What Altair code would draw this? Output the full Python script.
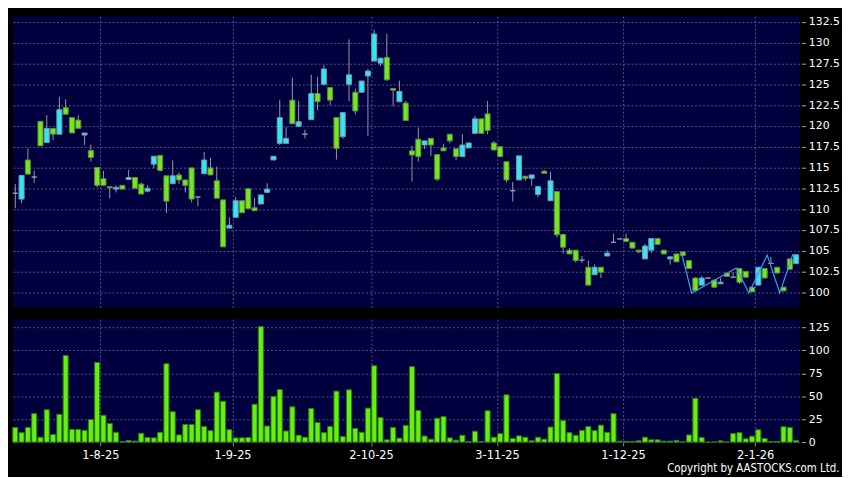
import altair as alt
import pandas as pd

# ---- data (one entry per trading day) ----
opens = [111.9, 111.2, 115.9, 113.85, 120.55, 118.0, 119.7, 119.0, 122.2, 121.0,
         120.7, 118.9, 117.05, 115.0, 113.65, 112.7, 112.4, 112.85, 113.55, 113.8,
         113.0, 112.15, 115.4, 116.45, 114.0, 113.05, 114.1, 113.5, 114.95, 111.45,
         114.25, 114.95, 113.4, 111.1, 107.7, 109.0, 111.0, 112.45, 110.15, 110.6,
         112.0, 115.9, 117.9, 117.9, 123.1, 119.95, 119.0, 120.75, 123.9, 125.0,
         124.6, 121.0, 118.7, 125.0, 124.05, 124.05, 126.0, 127.8, 127.55, 128.25,
         124.5, 122.9, 122.75, 117.0, 118.4, 117.7, 118.5, 116.55, 117.35, 119.0,
         117.25, 116.3, 117.35, 119.1, 120.85, 121.45, 117.95, 117.5, 115.7, 112.2,
         113.5, 113.95, 113.7, 111.75, 114.55, 111.0, 112.1, 106.95, 105.05, 105.05,
         103.85, 103.0, 102.1, 103.0, 104.35, 106.0, 106.4, 106.45, 106.0, 105.05,
         104.0, 105.05, 106.45, 105.05, 104.0, 104.6, 104.85, 103.8, 101.7, 100.85,
         101.7, 101.45, 101.0, 102.3, 101.8, 102.85, 102.5, 100.6, 100.85, 102.85,
         103.45, 103.0, 100.6, 104.0, 103.45]
highs = [113.0, 114.05, 117.3, 114.6, 120.55, 121.3, 119.7, 123.5, 123.2, 121.0,
         121.25, 119.15, 117.75, 115.0, 114.6, 112.7, 112.85, 112.85, 114.7, 113.8,
         113.2, 112.9, 116.35, 116.45, 114.0, 115.85, 114.4, 113.5, 114.95, 111.45,
         116.85, 116.15, 115.1, 111.1, 109.0, 111.45, 111.0, 112.45, 111.35, 111.7,
         113.1, 116.35, 123.15, 119.85, 125.8, 123.0, 119.55, 126.15, 125.9, 127.3,
         124.6, 121.0, 121.6, 130.4, 124.45, 125.4, 126.85, 131.5, 128.15, 131.05,
         124.5, 125.45, 123.0, 117.6, 119.8, 118.2, 118.5, 116.55, 117.8, 119.0,
         117.25, 119.0, 117.95, 121.2, 120.85, 123.0, 118.2, 117.5, 115.7, 113.25,
         116.4, 113.95, 114.1, 112.8, 114.7, 114.5, 112.1, 106.95, 105.3, 105.05,
         104.35, 103.8, 103.35, 103.0, 105.05, 107.05, 106.4, 107.05, 106.0, 105.05,
         105.8, 106.45, 106.45, 105.05, 104.25, 104.6, 104.85, 103.8, 101.8, 101.95,
         101.7, 101.45, 101.7, 102.3, 102.4, 102.85, 102.5, 100.6, 103.0, 102.85,
         104.25, 103.0, 100.6, 104.0, 104.5]
lows = [110.1, 110.7, 114.2, 113.15, 117.6, 118.0, 118.3, 119.0, 121.4, 119.15,
        119.7, 117.7, 115.7, 112.6, 112.85, 111.3, 112.0, 112.4, 113.55, 112.5,
        111.8, 112.0, 114.9, 114.5, 109.5, 113.05, 113.0, 112.0, 110.8, 110.35,
        114.25, 114.1, 111.3, 105.45, 107.7, 109.0, 109.55, 110.05, 109.8, 110.6,
        112.0, 115.9, 117.7, 117.9, 120.25, 119.95, 118.5, 120.75, 121.9, 125.0,
        122.5, 115.95, 118.45, 122.95, 121.4, 124.05, 118.8, 127.8, 127.2, 125.4,
        122.35, 122.9, 120.65, 113.3, 115.7, 117.2, 116.4, 113.35, 117.0, 117.9,
        115.9, 116.3, 117.35, 119.1, 119.1, 119.0, 117.1, 116.3, 113.2, 110.9,
        113.5, 113.4, 112.8, 111.4, 114.3, 111.0, 106.6, 104.65, 104.6, 103.55,
        103.5, 100.85, 102.1, 101.7, 104.35, 106.0, 106.4, 106.1, 105.3, 104.65,
        104.0, 104.7, 105.75, 104.6, 103.3, 103.65, 104.4, 102.85, 100.2, 100.85,
        101.7, 100.6, 101.0, 101.9, 101.8, 101.0, 101.8, 100.05, 100.85, 101.7,
        103.45, 102.3, 100.15, 102.75, 103.45]
closes = [111.9, 114.05, 114.2, 113.85, 117.6, 119.7, 119.0, 121.95, 121.4, 119.15,
          119.7, 119.15, 116.2, 112.85, 112.85, 112.55, 112.6, 112.4, 113.8, 112.5,
          111.8, 112.5, 116.35, 114.65, 110.95, 114.0, 113.5, 112.85, 111.2, 111.45,
          115.9, 114.1, 111.3, 105.45, 108.05, 111.0, 109.55, 110.05, 109.8, 111.7,
          112.4, 116.35, 121.0, 118.5, 120.25, 120.5, 119.0, 123.9, 122.9, 126.85,
          123.1, 117.3, 121.6, 126.15, 121.8, 125.4, 126.6, 131.05, 128.15, 125.55,
          124.3, 124.15, 120.65, 116.5, 116.3, 118.2, 117.7, 113.6, 117.0, 118.2,
          116.3, 117.7, 117.95, 120.85, 119.1, 119.45, 117.1, 116.3, 113.5, 112.2,
          116.4, 113.7, 114.1, 112.7, 114.3, 113.4, 106.9, 105.4, 104.6, 103.8,
          103.85, 100.85, 103.0, 102.4, 104.7, 106.0, 106.4, 106.1, 105.3, 104.85,
          105.55, 106.45, 105.75, 104.6, 104.25, 103.65, 104.4, 102.85, 100.2, 101.7,
          101.7, 100.6, 101.2, 101.9, 101.8, 101.2, 101.8, 100.05, 103.0, 101.7,
          103.45, 102.3, 100.15, 102.75, 104.5]
volumes = [16, 10.3, 16, 31, 5.3, 35.3, 8.2, 30.3, 94.4, 13.9,
           13.9, 12.8, 24.6, 86.9, 29.2, 20.3, 10.7, 0.7, 1.8, 1.0,
           9.6, 5, 4.6, 10.7, 85.5, 33.1, 7.8, 19.2, 19.2, 35.3,
           17.1, 12.5, 54.5, 44.5, 13.5, 4.6, 4.6, 5, 41.3, 126,
           17.5, 49.9, 57.3, 12.1, 38.5, 7.5, 5.3, 36.7, 21.4, 10.3,
           17.1, 55.6, 6, 57, 15, 10.7, 37, 83.3, 26.7, 2.5,
           16, 4.3, 18.2, 82.3, 34.5, 6.6, 3.2, 26, 27.8, 4.6,
           2.1, 7.5, 0.7, 11.8, 0.7, 34.2, 5.3, 9.3, 51.6, 3.9,
           6.8, 5.3, 1.4, 5.3, 3.2, 16.4, 74.8, 23.5, 10.3, 7.5,
           12.8, 17.1, 12.5, 18.5, 10.7, 31, 1, 0.7, 0.7, 1.4,
           5.3, 2.5, 2.5, 1, 1, 1.8, 0.3, 7.8, 47.7, 5,
           0, 0, 1.4, 0, 9.3, 10.3, 3.6, 6.4, 13.5, 3.9,
           0.7, 0.7, 16.7, 16, 1.8]

# month boundaries (bar index) and their labels
date_positions = [13.5, 34.5, 56.5, 76.5, 96.5, 117.5]
date_labels = ["1-8-25", "1-9-25", "2-10-25", "3-11-25", "1-12-25", "2-1-26"]

# thin blue zig-zag line drawn over the last bars
zig_x = [105.8, 107.4, 114.5, 116.5, 119.4, 121.4, 123.5]
zig_y = [104.7, 99.9, 102.9, 99.9, 104.45, 99.9, 104.6]

price_ticks = [100, 102.5, 105, 107.5, 110, 112.5, 115, 117.5, 120, 122.5, 125, 127.5, 130, 132.5]
volume_ticks = [0, 25, 50, 75, 100, 125]

# ---- build tables ----
n = len(opens)
df = pd.DataFrame({"i": list(range(n)), "o": opens, "h": highs, "l": lows,
                   "c": closes, "v": volumes})
df["dir"] = ["up" if c > o else ("down" if c < o else "flat") for o, c in zip(opens, closes)]
zig = pd.DataFrame({"zx": zig_x, "zy": zig_y})

FONT = "DejaVu Sans"
BG = "#000000"
PLOT_BG = "#00003e"
GRID = "#55558a"
CYAN = "#2ee8f8"
GREEN = "#74e81e"
VOLG = "#66f010"

label_expr = " : ".join(
    f"datum.value == {p} ? '{t}'" for p, t in zip(date_positions, date_labels)
) + " : ''"

W = 794
xscale = alt.Scale(domain=[-0.37, 124.52], nice=False, zero=False)
top_xaxis = alt.Axis(values=date_positions, labels=False, ticks=False, domain=False,
                     grid=True, title=None)
bot_xaxis = alt.Axis(values=date_positions, labelExpr=label_expr, ticks=True, tickSize=4,
                     tickColor="#888888", domain=False, grid=True, title=None,
                     labelColor="#ffffff", labelFont=FONT, labelFontSize=11.5,
                     labelPadding=4, labelFlush=False)

pscale = alt.Scale(domain=[98.17, 133.2], nice=False, zero=False)
paxis = alt.Axis(orient="right", values=price_ticks, title=None,
                 labelExpr="replace(format(datum.value, '.1f'), '.0', '')",
                 domain=False, ticks=True, tickSize=4, tickColor="#aaaaaa",
                 labelColor="#ffffff", labelFont=FONT, labelFontSize=11,
                 labelPadding=3, offset=2, grid=True)

dir_dom = ["up", "down", "flat"]
fill_scale = alt.Scale(domain=dir_dom, range=[CYAN, GREEN, "#9a9aa4"])
stroke_scale = alt.Scale(domain=dir_dom, range=["#7f93a3", "#5f8a44", "#9a9aa4"])

base = alt.Chart(df).transform_calculate(
    xl="datum.i - 0.4", xr="datum.i + 0.4"
)

wicks = base.mark_rule(color="#9898a8", strokeWidth=1).encode(
    x=alt.X("i:Q", scale=xscale, axis=top_xaxis),
    y=alt.Y("l:Q", scale=pscale, axis=paxis),
    y2="h:Q",
)
bodies = base.mark_rect(strokeWidth=1).encode(
    x=alt.X("xl:Q", scale=xscale, axis=top_xaxis),
    x2="xr:Q",
    y=alt.Y("o:Q", scale=pscale, axis=paxis),
    y2="c:Q",
    fill=alt.Fill("dir:N", scale=fill_scale, legend=None),
    stroke=alt.Stroke("dir:N", scale=stroke_scale, legend=None),
)
zigline = alt.Chart(zig).mark_line(color="#3c9ee0", strokeWidth=1.2).encode(
    x=alt.X("zx:Q", scale=xscale, axis=top_xaxis),
    y=alt.Y("zy:Q", scale=pscale, axis=paxis),
)
price = alt.layer(wicks, bodies, zigline).properties(width=W, height=294)

vscale = alt.Scale(domain=[0, 134], nice=False, zero=False)
vaxis = alt.Axis(orient="right", values=volume_ticks, format="d", title=None,
                 domain=False, ticks=True, tickSize=4, tickColor="#aaaaaa",
                 labelColor="#ffffff", labelFont=FONT, labelFontSize=11,
                 labelPadding=3, offset=2, grid=True)
vol = base.mark_rect(fill=VOLG, stroke="#2f7a10", strokeWidth=1).encode(
    x=alt.X("xl:Q", scale=xscale, axis=bot_xaxis),
    x2="xr:Q",
    y=alt.Y("v:Q", scale=vscale, axis=vaxis),
    y2=alt.datum(0),
).properties(width=W, height=124)

chart = alt.vconcat(price, vol, spacing=12).properties(
    background=BG,
    padding={"left": 4, "top": 5, "right": 2, "bottom": 0},
    title=alt.TitleParams(
        text="Copyright by AASTOCKS.com Ltd.", orient="bottom", anchor="end",
        color="#ffffff", font="DejaVu Sans Condensed, DejaVu Sans", fontSize=11.5,
        fontWeight="normal", offset=2,
    ),
).configure_view(
    fill=PLOT_BG, strokeWidth=0
).configure_axis(
    gridColor=GRID, gridDash=[2, 2], gridWidth=1, gridOpacity=1
)

chart.save("out.html", embed_options={"renderer": "svg", "actions": False})
